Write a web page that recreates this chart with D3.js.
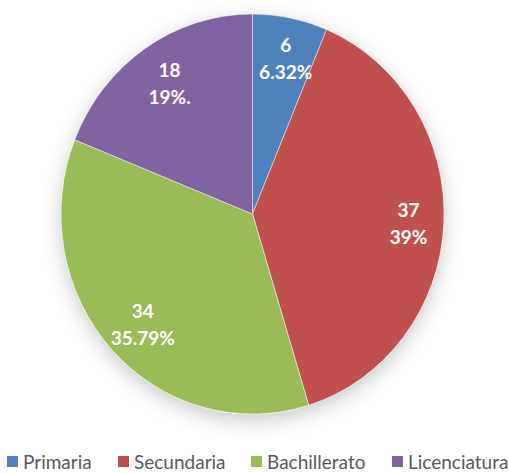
<!DOCTYPE html>
<html><head><meta charset="utf-8">
<script src="https://cdn.jsdelivr.net/npm/d3@7"></script>
<style>body{margin:0;background:#fff}svg{display:block}</style>
</head><body>
<svg id="chart" width="509" height="473"></svg>
<script>
const categories = ["Primaria", "Secundaria", "Bachillerato", "Licenciatura"];
const values = [6, 37, 34, 18];
const percentLabels = ["6.32%", "39%", "35.79%", "19%."];
const colors = ["#4F81BD", "#C0504D", "#9BBB59", "#8064A2"];

const svg = d3.select("#chart");
const cx = 252.5, cy = 214, R = 200, sx = 191.5 / 200;

const defs = svg.append("defs");
const f = defs.append("filter").attr("id", "shadow").attr("x", "-20%").attr("y", "-20%").attr("width", "140%").attr("height", "140%");
f.append("feDropShadow").attr("dx", 0).attr("dy", 6).attr("stdDeviation", 10).attr("flood-color", "#000").attr("flood-opacity", 0.22);

const data = categories.map((c, i) => ({ cat: c, value: values[i], pct: percentLabels[i], color: colors[i] }));
const pie = d3.pie().value(d => d.value).sort(null);
const arcs = pie(data);
const arc = d3.arc().innerRadius(0).outerRadius(R);

const g = svg.append("g").attr("transform", `translate(${cx},${cy}) scale(${sx},1)`);
g.append("circle").attr("r", R).attr("fill", "#fff").attr("filter", "url(#shadow)");
g.selectAll("path.slice").data(arcs).join("path")
  .attr("class", "slice")
  .attr("d", arc)
  .attr("fill", d => d.data.color)
  .attr("stroke", "#fff").attr("stroke-width", 0.8).attr("stroke-opacity", 0.6);

const labelR = R * 0.8;
const lg = svg.append("g").attr("transform", `translate(${cx},${cy})`);
arcs.forEach(a => {
  const m = (a.startAngle + a.endAngle) / 2;
  const x = Math.sin(m) * labelR * sx + 3, y = -Math.cos(m) * labelR + 1;
  const t = lg.append("text").attr("x", x).attr("y", y)
    .attr("text-anchor", "middle")
    .attr("font-family", "Lato, 'Open Sans', sans-serif")
    .attr("font-weight", "bold").attr("font-size", 19).attr("fill", "#fff");
  t.append("tspan").attr("x", x).attr("dy", "-0.3em").text(a.data.value);
  t.append("tspan").attr("x", x).attr("dy", "1.42em").text(a.data.pct);
});

// legend
const legendX = [7, 118, 251, 392];
const leg = svg.append("g").attr("transform", "translate(0,462)");
data.forEach((d, i) => {
  const gi = leg.append("g").attr("transform", `translate(${legendX[i]},0)`);
  gi.append("rect").attr("x", 0).attr("y", -6).attr("width", 11).attr("height", 11).attr("fill", d.color);
  gi.append("text").attr("x", 16).attr("y", 6.5)
    .attr("font-family", "Lato, 'Open Sans', sans-serif")
    .attr("font-size", 19).attr("fill", "#595959").text(d.cat);
});
</script>
</body></html>
